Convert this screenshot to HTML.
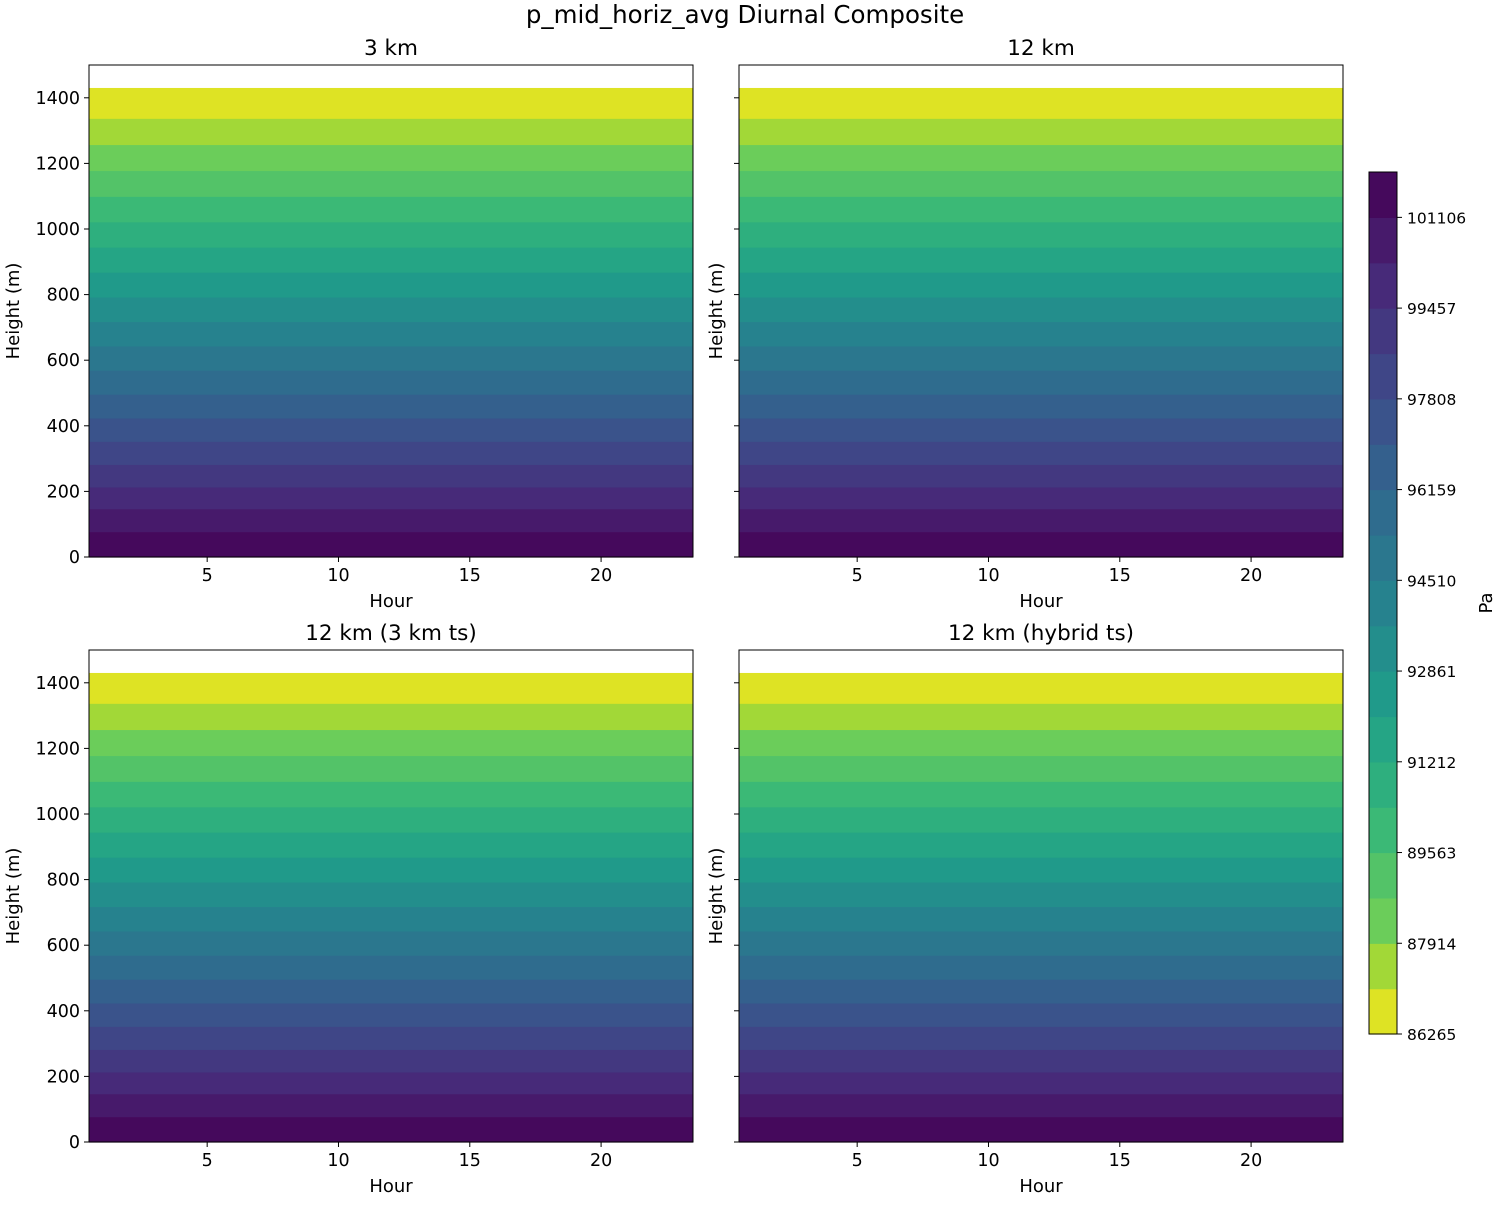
<!DOCTYPE html>
<html><head><meta charset="utf-8">
<style>
html,body{margin:0;padding:0;background:#fff;}
svg text{font-family:"DejaVu Sans","Liberation Sans",sans-serif;fill:#000;}
</style></head>
<body>
<svg id="fig" width="1500" height="1200" xmlns="http://www.w3.org/2000/svg">
<text x="745" y="23" font-size="24.5" text-anchor="middle">p_mid_horiz_avg Diurnal Composite</text>
<g id="panels"></g>
<g id="cbar"></g>
</svg>
<script>
// ---- data ----
const panelTitles = ["3 km", "12 km", "12 km (3 km ts)", "12 km (hybrid ts)"];
const heights = [0, 100, 200, 300, 400, 500, 600, 700, 800, 900, 1000, 1100, 1200, 1300, 1400, 1430];
const pressure3km = [101900, 100850, 99600, 98400, 97238, 96101, 94974, 93862, 92763, 91676, 90604, 89542, 88494, 87457, 86433, 86270];
const pressure12km = [101900, 100850, 99600, 98400, 97238, 96101, 94974, 93862, 92763, 91676, 90604, 89542, 88494, 87457, 86433, 86270];
const pressure12km3ts = [101900, 100850, 99600, 98400, 97238, 96101, 94974, 93862, 92763, 91676, 90604, 89542, 88494, 87457, 86433, 86270];
const pressure12kmHyb = [101900, 100850, 99600, 98400, 97238, 96101, 94974, 93862, 92763, 91676, 90604, 89542, 88494, 87457, 86433, 86270];
const levelMin = 86265, levelStep = 824.5, nBands = 19;
const cbarTicks = [86265, 87914, 89563, 91212, 92861, 94510, 96159, 97808, 99457, 101106];
const xTicks = [5, 10, 15, 20];
const yTicks = [0, 200, 400, 600, 800, 1000, 1200, 1400];
const hourMin = 0.5, hourMax = 23.5, zMin = 0, zMax = 1500;

const profiles = [pressure3km, pressure12km, pressure12km3ts, pressure12kmHyb];
const NS = "http://www.w3.org/2000/svg";
const vir = [[0,"#440154"],[0.125,"#482878"],[0.25,"#3e4989"],[0.375,"#31688e"],[0.5,"#26828e"],[0.625,"#1f9e89"],[0.75,"#35b779"],[0.875,"#6ece58"],[0.95,"#c2df23"],[1,"#fde725"]];
function hx(h){return [1,3,5].map(i=>parseInt(h.substr(i,2),16));}
function viridis(t){
  for(let i=0;i<vir.length-1;i++){
    if(t<=vir[i+1][0]){const a=hx(vir[i][1]),b=hx(vir[i+1][1]);const f=(t-vir[i][0])/(vir[i+1][0]-vir[i][0]);
      return "rgb("+a.map((v,k)=>Math.round(v+(b[k]-v)*f)).join(",")+")";}
  }
  return vir[vir.length-1][1];
}
function bandColor(i){return viridis(1 - (i+0.5)/nBands);}
function mk(tag, attrs, parent){const e=document.createElementNS(NS,tag);for(const k in attrs)e.setAttribute(k,attrs[k]);parent.appendChild(e);return e;}
function crossZ(p, lev){
  for(let i=0;i<heights.length-1;i++){
    const a=p[i],b=p[i+1];
    if((a-lev)*(b-lev)<=0 && a!==b){return heights[i]+(lev-a)/(b-a)*(heights[i+1]-heights[i]);}
  }
  return null;
}
const boxes=[[89,65],[739,65],[89,650],[739,650]];
const W=604,H=492;
const panelsG=document.getElementById("panels");
boxes.forEach((b,pi)=>{
  const [x0,y0]=b;
  const g=mk("g",{},panelsG);
  
  
  const X=h=>x0+(h-hourMin)/(hourMax-hourMin)*W;
  const Y=z=>y0+H-(z-zMin)/(zMax-zMin)*H;
  const p=profiles[pi];
  const zTop=heights[heights.length-1], zBot=heights[0];
  const pMax=Math.max(...p), pMin=Math.min(...p);
  for(let i=0;i<nBands;i++){
    const lo=levelMin+i*levelStep, hi=lo+levelStep;
    if(hi<pMin||lo>pMax) continue;
    let zHi = lo<=pMin ? zTop : crossZ(p,lo);
    let zLo = hi>=pMax ? zBot : crossZ(p,hi);
    if(zHi==null||zLo==null) continue;
    const r=mk("rect",{x:X(hourMin),y:Y(zHi),width:W,height:Y(zLo)-Y(zHi)+0.6,fill:bandColor(i)},g);
    
    
  }
  const fr=mk("rect",{x:x0,y:y0,width:W,height:H,fill:"none",stroke:"#000","stroke-width":1},g);
  
  
  const t=mk("text",{x:x0+W/2,y:y0-10,"font-size":21.5,"text-anchor":"middle"},g);
  t.textContent=panelTitles[pi];
  
  
  xTicks.forEach(v=>{
    mk("line",{x1:X(v),x2:X(v),y1:y0+H,y2:y0+H+5,stroke:"#000"},g);
    const tx=mk("text",{x:X(v),y:y0+H+24,"font-size":17.5,"text-anchor":"middle"},g);
    tx.textContent=v;
    
    
  });
  yTicks.forEach(v=>{
    mk("line",{x1:x0-5,x2:x0,y1:Y(v),y2:Y(v),stroke:"#000"},g);
    if(pi%2===0){
      const ty=mk("text",{x:x0-9,y:Y(v)+6,"font-size":17.5,"text-anchor":"end"},g);
      ty.textContent=v;
      
      
    }
  });
  const xl=mk("text",{x:x0+W/2,y:y0+H+50,"font-size":18,"text-anchor":"middle"},g);
  xl.textContent="Hour";
  
  
  const lx = pi%2===0 ? 19 : 722;
  const yl=mk("text",{x:lx,y:y0+H/2,"font-size":18,"text-anchor":"middle",transform:"rotate(-90 "+lx+" "+(y0+H/2)+")"},g);
  yl.textContent="Height (m)";
  
  
});
const cb=document.getElementById("cbar");


const cx=1369,cw=28,cTop=172,cBot=1034;
const levelMax=levelMin+nBands*levelStep;
const CY=v=>cBot-(v-levelMin)/(levelMax-levelMin)*(cBot-cTop);
for(let i=0;i<nBands;i++){
  const lo=levelMin+i*levelStep, hi=lo+levelStep;
  const r=mk("rect",{x:cx,y:CY(hi),width:cw,height:CY(lo)-CY(hi)+0.6,fill:bandColor(i)},cb);
  
  
}
mk("rect",{x:cx,y:cTop,width:cw,height:cBot-cTop,fill:"none",stroke:"#000"},cb);
cbarTicks.forEach(v=>{
  mk("line",{x1:cx+cw,x2:cx+cw+5,y1:CY(v),y2:CY(v),stroke:"#000"},cb);
  const t=mk("text",{x:cx+cw+10,y:CY(v)+6,"font-size":15.5},cb);
  t.textContent=v;
  
  
});
const pl=mk("text",{x:1492,y:603,"font-size":18,"text-anchor":"middle",transform:"rotate(-90 1492 603)"},cb);
pl.textContent="Pa";


</script>
</body></html>
